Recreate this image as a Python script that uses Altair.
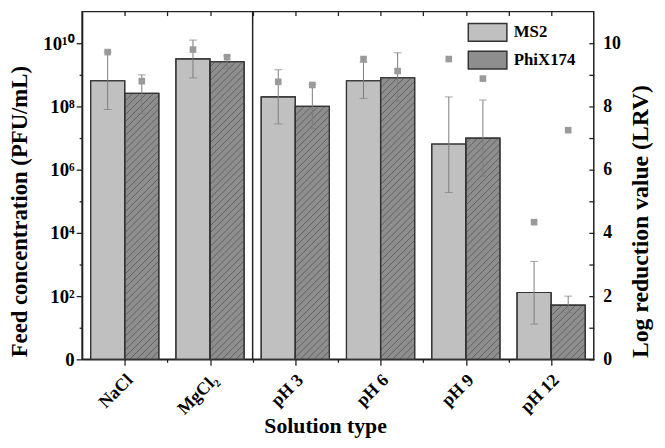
import math
import altair as alt
import pandas as pd

# ---------------- data ----------------
categories = ["NaCl", "MgCl₂", "pH 3", "pH 6", "pH 9", "pH 12"]
series = ["MS2", "PhiX174"]

ms2_conc = [6.5e8, 3.2e9, 2.0e8, 6.5e8, 6.5e6, 130]
ms2_low = [8.0e7, 8.0e8, 2.8e7, 1.8e8, 1.9e5, 13]
ms2_high = [5.2e9, 1.26e10, 1.45e9, 2.5e9, 2.0e8, 1260]

phix_conc = [2.6e8, 2.6e9, 1.0e8, 8.1e8, 1.0e7, 52]
phix_low = [6.0e7, 1.6e9, 2.0e7, 1.45e8, 6.3e5, 30]
phix_high = [1.0e9, 4.0e9, 5.0e8, 5.0e9, 1.6e8, 100]

ms2_lrv = [9.72, 9.80, 8.78, 9.50, 9.50, 4.34]
phix_lrv = [8.80, 9.56, 8.68, 9.12, 8.88, 7.25]

group_dividers = [1.5]

# ---------------- layout / style ----------------
W, H = 518, 352
X_DOMAIN = [-0.5, 5.5]
Y_DOMAIN = [1, 1e11]
LRV_DOMAIN = [0, 11]
BAR_W = 0.4
SERIF = "Liberation Serif"
LIGHT = "#c0c0c0"
DARK = "#8e8e8e"
HATCH = "#5a5a5a"
ERR = "#7c7c7c"
INK = "#222222"

rows = []
for i, cat in enumerate(categories):
    for s, conc, lo, hi, lrv in [
        ("MS2", ms2_conc[i], ms2_low[i], ms2_high[i], ms2_lrv[i]),
        ("PhiX174", phix_conc[i], phix_low[i], phix_high[i], phix_lrv[i]),
    ]:
        x0 = i - BAR_W if s == "MS2" else i
        rows.append(dict(category=cat, series=s, x0=x0, x1=x0 + BAR_W,
                         xc=x0 + BAR_W / 2, conc=conc, lo=lo, hi=hi,
                         lrv=lrv, base=1))
df = pd.DataFrame(rows)

caps = pd.concat([
    df[["xc", "lo"]].rename(columns={"lo": "v"}),
    df[["xc", "hi"]].rename(columns={"hi": "v"}),
])

# hatch segments for PhiX174 bars (pattern derived from bar extents)
px_x = W / (X_DOMAIN[1] - X_DOMAIN[0])
px_dec = H / math.log10(Y_DOMAIN[1])
spacing = 7.0
hatch = []
for _, r in df[df.series == "PhiX174"].iterrows():
    wpx = BAR_W * px_x
    hpx = math.log10(r.conc) * px_dec
    k0 = math.ceil(-wpx / spacing)
    k1 = math.floor(hpx / spacing)
    for k in range(k0, k1 + 1):
        c = k * spacing + 2
        u0 = max(0.0, -c)
        u1 = min(wpx, hpx - c)
        if u1 - u0 < 0.8:
            continue
        hatch.append(dict(hx=r.x0 + u0 / px_x, hy=10 ** ((u0 + c) / px_dec),
                          hx2=r.x0 + u1 / px_x, hy2=10 ** ((u1 + c) / px_dec)))
hatch_df = pd.DataFrame(hatch)
div_df = pd.DataFrame({"x": group_dividers})

# ---------------- scales & axes ----------------
xs = alt.Scale(domain=X_DOMAIN, nice=False, zero=False)
ys = alt.Scale(type="log", domain=Y_DOMAIN, nice=False)
lrv_s = alt.Scale(domain=LRV_DOMAIN, nice=False, zero=False)

x_ticks = [v / 2 for v in range(0, 11)]
cat_js = "[" + ",".join("'" + c + "'" for c in categories) + "]"

x_axis = alt.Axis(
    values=x_ticks,
    labelExpr=f"datum.value % 1 == 0 ? {cat_js}[datum.value] : ''",
    labelAngle=315, labelAlign="right", labelBaseline="middle",
    labelFont=SERIF, labelFontWeight="bold", labelFontSize=18,
    labelColor="black", labelPadding=12, labelOffset=5, labelOverlap=False,
    tickSize={"condition": {"test": "datum.value % 1 == 0", "value": 6}, "value": 3},
    tickColor=INK, tickWidth=1.3, domainColor=INK, domainWidth=1.5,
    grid=False, title="Solution type", titleFont=SERIF,
    titleFontWeight="bold", titleFontSize=22, titleColor="black",
    titleX=246, titleY=74, titleAlign="center", titleBaseline="alphabetic",
)

sup = "['', '', '²', '', '⁴', '', '⁶', '', '⁸', '', '¹⁰']"
expo = "round(log(datum.value) / LN10)"
y_axis = alt.Axis(
    values=[10 ** k for k in range(0, 11)],
    labelExpr=f"datum.value < 2 ? '0' : ({expo} % 2 == 0 ? '10' + {sup}[{expo}] : '')",
    labelFont=SERIF, labelFontWeight="bold", labelFontSize=19,
    labelColor="black", labelPadding=2, labelOverlap=False,
    tickSize={"condition": {"test": f"{expo} % 2 == 0", "value": 6}, "value": 3},
    tickColor=INK, tickWidth=1.3, domainColor=INK, domainWidth=1.5,
    grid=False, title="Feed concentration (PFU/mL)", titleFont=SERIF,
    titleFontWeight="bold", titleFontSize=23, titleColor="black",
    titleAngle=270, titleX=-63, titleY=202, titleAlign="center",
    titleBaseline="middle",
)

top_axis = alt.Axis(
    orient="top", values=x_ticks, labels=False, offset=-4, tickSize=4,
    tickColor=INK, tickWidth=1.3, domain=False, grid=False, title=None,
)

right_axis = alt.Axis(
    orient="right", values=list(range(0, 11)),
    labelExpr="datum.value % 2 == 0 ? datum.value : ''",
    labelFont=SERIF, labelFontWeight="bold", labelFontSize=18,
    labelColor="black", labelPadding=9, labelOverlap=False,
    offset=-5, tickSize=5, tickColor=INK, tickWidth=1.3, domain=False,
    grid=False, title="Log reduction value (LRV)", titleFont=SERIF,
    titleFontWeight="bold", titleFontSize=24, titleColor="black",
    titleAngle=270, titleX=52, titleY=212, titleAlign="center",
    titleBaseline="middle",
)

legend = alt.Legend(
    orient="none", legendX=400.5, legendY=11, title=None,
    symbolType="M-2.17,-1H2.17V1H-2.17Z", symbolSize=324,
    symbolStrokeColor="#333333", symbolStrokeWidth=1.5, symbolOpacity=1,
    labelFont=SERIF, labelFontWeight="bold", labelFontSize=17,
    labelColor="black", labelOffset=16.5, rowPadding=4,
)

# ---------------- layers ----------------
bars = alt.Chart(df).mark_rect(stroke="#333333", strokeWidth=1.2).encode(
    x=alt.X("x0:Q", scale=xs, axis=x_axis),
    x2="x1:Q",
    y=alt.Y("base:Q", scale=ys, axis=y_axis),
    y2="conc:Q",
    color=alt.Color("series:N", scale=alt.Scale(domain=series, range=[LIGHT, DARK]),
                    legend=legend),
)

hatch_layer = alt.Chart(hatch_df).mark_rule(color=HATCH, strokeWidth=0.9).encode(
    x=alt.X("hx:Q", scale=xs, axis=x_axis), x2="hx2:Q",
    y=alt.Y("hy:Q", scale=ys, axis=y_axis), y2="hy2:Q",
)

bar_outline = alt.Chart(df).mark_rect(filled=False, stroke="#333333", strokeWidth=1.2).encode(
    x=alt.X("x0:Q", scale=xs, axis=x_axis), x2="x1:Q",
    y=alt.Y("base:Q", scale=ys, axis=y_axis), y2="conc:Q",
)

divider = alt.Chart(div_df).mark_rule(color=INK, strokeWidth=1.5).encode(
    x=alt.X("x:Q", scale=xs, axis=x_axis),
)

err = alt.Chart(df).mark_rule(color=ERR, strokeWidth=1).encode(
    x=alt.X("xc:Q", scale=xs, axis=x_axis),
    y=alt.Y("lo:Q", scale=ys, axis=y_axis), y2="hi:Q",
)

err_caps = alt.Chart(caps).mark_tick(orient="horizontal", size=8, thickness=1, color=ERR).encode(
    x=alt.X("xc:Q", scale=xs, axis=x_axis),
    y=alt.Y("v:Q", scale=ys, axis=y_axis),
)

main = alt.layer(bars, hatch_layer, bar_outline, divider, err, err_caps)

squares = alt.Chart(df).mark_square(size=45, color="#9a9a9a", opacity=1).encode(
    x=alt.X("xc:Q", scale=xs, axis=top_axis),
    y=alt.Y("lrv:Q", scale=lrv_s, axis=right_axis),
)

chart = alt.layer(main, squares).resolve_scale(
    x="independent", y="independent"
).properties(
    width=W, height=H,
    padding={"left": 75, "top": 1, "right": 64, "bottom": 80},
    autosize=alt.AutoSizeParams(type="none"),
    background="white",
).configure_view(stroke=INK, strokeWidth=1.5)

chart.save("out.html", embed_options={"renderer": "svg", "actions": False})
